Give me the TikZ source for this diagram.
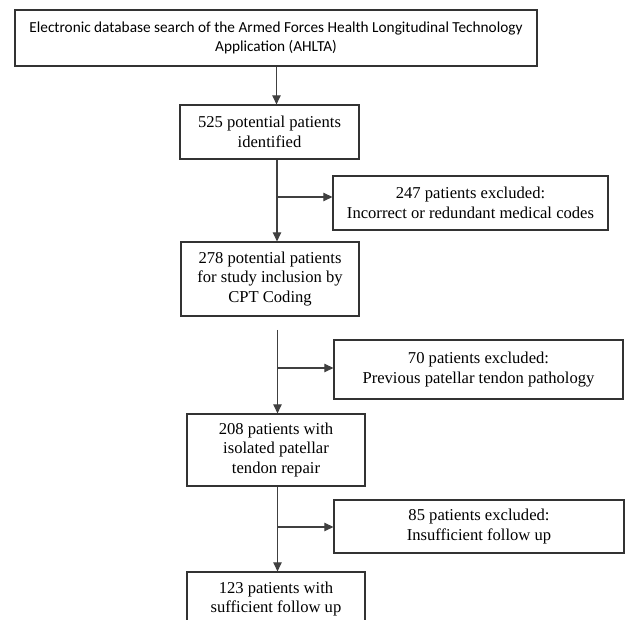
\documentclass[tikz,border=0pt]{standalone}
\usepackage{fontspec}
\setmainfont{Liberation Serif}
\newfontfamily\calibri{Carlito}
\usetikzlibrary{arrows.meta}
\begin{document}
\begin{tikzpicture}[x=1pt,y=-1pt,
  box/.style={draw=black!80, line width=1.3pt, align=center, inner sep=0pt,
    font=\fontsize{16.6}{19.5}\selectfont},
  conn/.style={draw=black!75, line width=1.1pt},
  arr/.style={conn, -{Triangle[length=9pt,width=8.5pt]}}]
\useasboundingbox (0,0) rectangle (625,620);
\fill[white] (0,0) rectangle (625,620);
\node[box, minimum width=522pt, minimum height=56pt, font=\calibri\fontsize{15.3}{18.5}\selectfont] (top) at (276,38)
  {Electronic database search of the Armed Forces Health Longitudinal Technology\\Application (AHLTA)};
\node[box, minimum width=179pt, minimum height=54pt] (b2) at (269.5,132)
  {525 potential patients\\identified};
\node[box, minimum width=275pt, minimum height=54pt] (e1) at (470.5,203)
  {247 patients excluded:\\Incorrect or redundant medical codes};
\node[box, minimum width=178pt, minimum height=74pt] (b3) at (270,279)
  {278 potential patients\\for study inclusion by\\CPT Coding};
\node[box, minimum width=289pt, minimum height=59pt] (e2) at (478.5,369.5)
  {70 patients excluded:\\Previous patellar tendon pathology};
\node[box, minimum width=178pt, minimum height=72pt] (b4) at (276,450)
  {208 patients with\\isolated patellar\\tendon repair};
\node[box, minimum width=290pt, minimum height=53pt] (e3) at (479,526.5)
  {85 patients excluded:\\Insufficient follow up};
\node[box, minimum width=178pt, minimum height=54pt] (b5) at (276,599)
  {123 patients with\\sufficient follow up};
% connectors
\draw[arr] (top.south -| 276.5,0) -- (b2.north -| 276.5,0);
\coordinate (j1) at (277,197);
\draw[arr] (b2.south -| 277,0) -- (b3.north -| 277,0);
\draw[arr] (j1) -- (e1.west |- j1);
\coordinate (s2) at (277.5,330);
\coordinate (j2) at (277.5,368);
\draw[arr] (s2) -- (b4.north -| s2);
\draw[arr] (j2) -- (e2.west |- j2);
\coordinate (j3) at (277.5,527);
\draw[arr] (b4.south -| j3) -- (b5.north -| j3);
\draw[arr] (j3) -- (e3.west |- j3);
\end{tikzpicture}
\end{document}
